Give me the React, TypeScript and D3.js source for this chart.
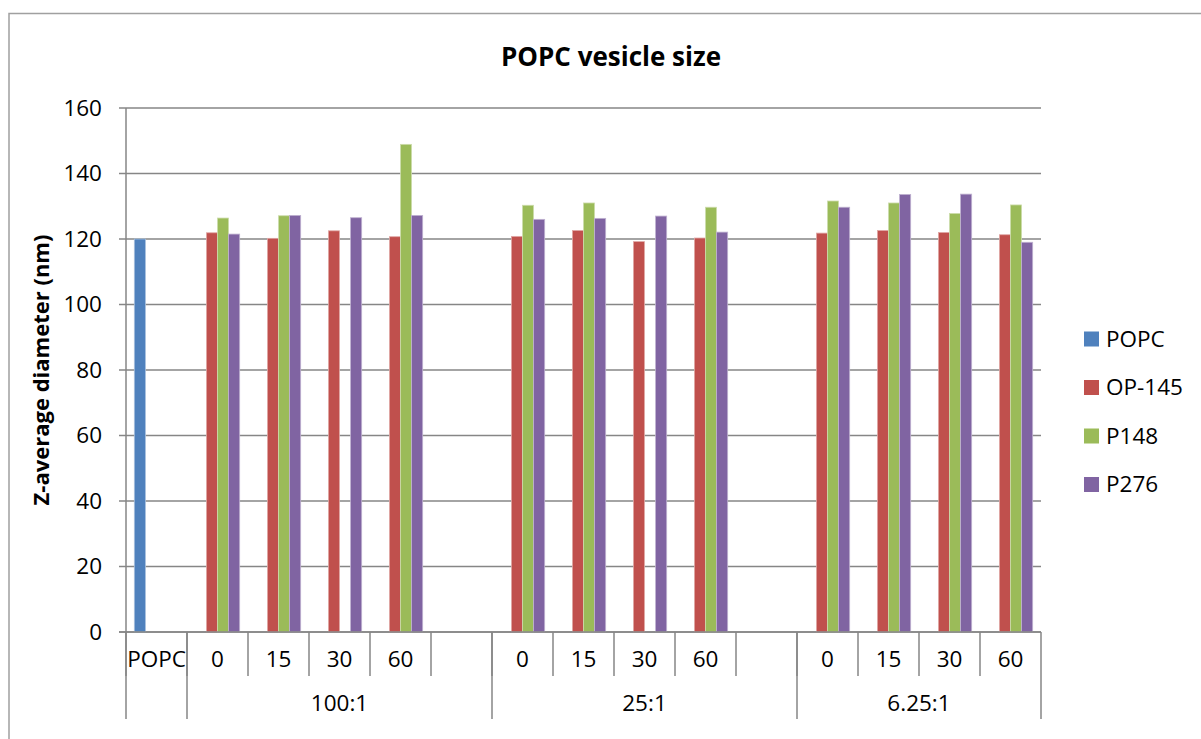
import React from 'react';
import * as d3 from 'd3';

// chart data
const categories = ['POPC', '0', '15', '30', '60', '', '0', '15', '30', '60', '', '0', '15', '30', '60'];
const groupLabels = ['', '100:1', '25:1', '6.25:1'];
const groupStarts = [0, 1, 6, 11];
const seriesNames = ['POPC', 'OP-145', 'P148', 'P276'];
const popc = [120, null, null, null, null, null, null, null, null, null, null, null, null, null, null];
const op145 = [null, 121.9, 120.2, 122.5, 120.7, null, 120.8, 122.6, 119.2, 120.3, null, 121.8, 122.6, 122.0, 121.3];
const p148 = [null, 126.4, 127.1, null, 148.9, null, 130.3, 131.0, null, 129.7, null, 131.6, 131.0, 127.8, 130.4];
const p276 = [null, 121.5, 127.2, 126.5, 127.2, null, 126.0, 126.3, 127.0, 122.1, null, 129.7, 133.6, 133.7, 119.0];
const yTicks = [0, 20, 40, 60, 80, 100, 120, 140, 160];

const seriesValues = [popc, op145, p148, p276];
const colors = ['#4F81BD', '#C0504D', '#9BBB59', '#8064A2'];
const edges = ['#a7c0de', '#e0a8a6', '#cddcac', '#bfb1d0'];

const W = 1201;
const H = 739;
const margin = { top: 108, left: 126, right: 160, bottom: 107 };
const font = '"Open Sans", "Liberation Sans", sans-serif';
const axisColor = '#868686';

export default function App() {
  const idx = categories.map((_, i) => i);
  const x = d3.scaleBand<number>()
    .domain(idx)
    .range([margin.left, W - margin.right])
    .padding(0);
  const xs = d3.scaleBand<number>()
    .domain(seriesNames.map((_, i) => i))
    .range([0, x.bandwidth()])
    .paddingInner(0)
    .paddingOuter(0.75);
  const y = d3.scaleLinear().domain([0, 160]).range([H - margin.bottom, margin.top]);

  const x0 = margin.left;
  const x1 = W - margin.right;
  const y0 = y(0);
  const edgeAt = (i: number) => (i < categories.length ? (x(i) as number) : x1);

  return (
    <svg width={W} height={H} style={{ position: 'absolute', left: 0, top: 0, background: '#fff' }} fontFamily={font}>
      {/* outer frame */}
      <rect x={9} y={13.5} width={W} height={H} fill="none" stroke="#a0a0a0" strokeWidth={1.5} />

      <text x={611} y={66} textAnchor="middle" fontSize={26} fontWeight="bold" fill="#000">
        POPC vesicle size
      </text>

      {/* gridlines + y ticks */}
      {yTicks.map(t => (
        <g key={t}>
          <line x1={x0 - 7} x2={x1} y1={y(t)} y2={y(t)} stroke={axisColor} strokeWidth={1.5} />
          <text x={102} y={y(t)} dy="0.35em" textAnchor="end" fontSize={22.5} fill="#000">
            {t}
          </text>
        </g>
      ))}
      <line x1={x0} x2={x0} y1={y(160)} y2={y0} stroke={axisColor} strokeWidth={1.5} />

      <text
        transform={`translate(41,${(y(0) + y(160)) / 2}) rotate(-90)`}
        textAnchor="middle"
        dy="0.35em"
        fontSize={22}
        fontWeight="bold"
        fill="#000"
      >
        Z-average diameter (nm)
      </text>

      {/* bars */}
      {seriesValues.map((vals, s) =>
        vals.map((v, i) =>
          v == null ? null : (
            <rect
              key={`${s}-${i}`}
              x={(x(i) as number) + (xs(s) as number)}
              y={y(v)}
              width={xs.bandwidth()}
              height={y0 - y(v)}
              fill={colors[s]}
              stroke={edges[s]}
              strokeWidth={0.8}
            />
          )
        )
      )}

      {/* category axis */}
      {idx.map(i => (
        <line key={`t${i}`} x1={edgeAt(i)} x2={edgeAt(i)} y1={y0} y2={676} stroke={axisColor} strokeWidth={1.5} />
      ))}
      {idx.map(i => (
        <text key={`c${i}`} x={(x(i) as number) + x.bandwidth() / 2} y={659} dy="0.35em" textAnchor="middle" fontSize={22.5} fill="#000">
          {categories[i]}
        </text>
      ))}
      {groupStarts.concat([categories.length]).map(i => (
        <line key={`g${i}`} x1={edgeAt(i)} x2={edgeAt(i)} y1={y0} y2={719} stroke={axisColor} strokeWidth={1.5} />
      ))}
      {groupLabels.map((lab, g) => {
        const a = edgeAt(groupStarts[g]);
        const b = edgeAt(g + 1 < groupStarts.length ? groupStarts[g + 1] : categories.length);
        return (
          <text key={`gl${g}`} x={(a + b) / 2} y={703} dy="0.35em" textAnchor="middle" fontSize={22.5} fill="#000">
            {lab}
          </text>
        );
      })}
      <line x1={x0 - 7} x2={x1} y1={y0} y2={y0} stroke={axisColor} strokeWidth={1.5} />

      {/* legend */}
      {seriesNames.map((name, s) => (
        <g key={name} transform={`translate(1084,${339 + s * 48.5})`}>
          <rect x={0} y={-7.5} width={15} height={15} fill={colors[s]} />
          <text x={22} y={0} dy="0.35em" fontSize={22.5} fill="#000">
            {name}
          </text>
        </g>
      ))}
    </svg>
  );
}
